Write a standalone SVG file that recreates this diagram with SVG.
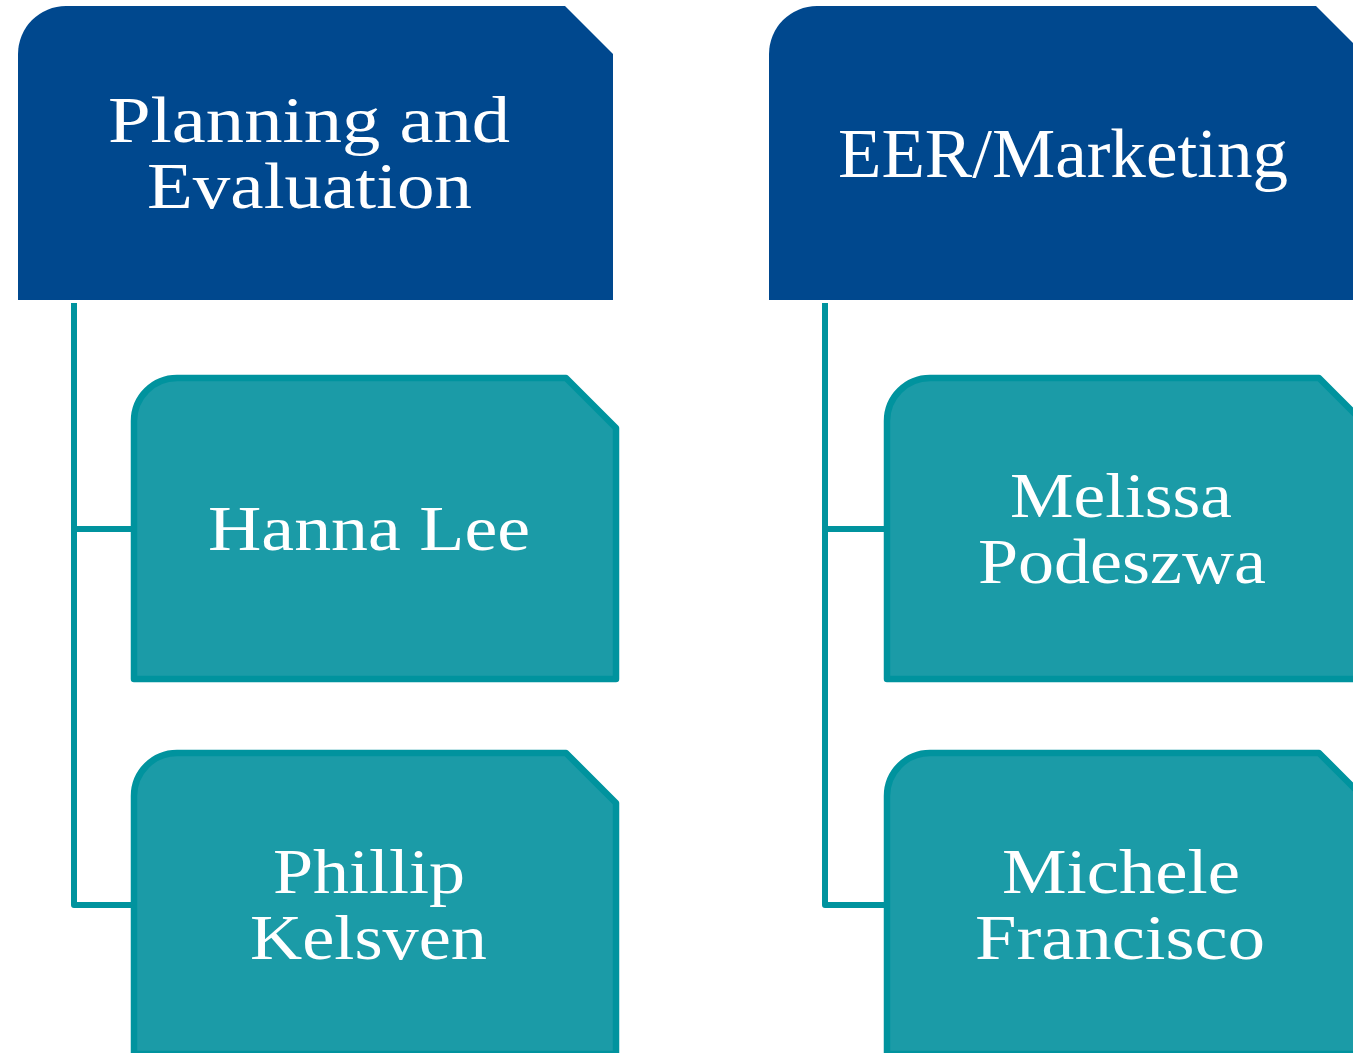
<svg xmlns="http://www.w3.org/2000/svg" width="1353" height="1053" viewBox="0 0 1353 1053">
<style>
.hdr{fill:#00488e}
.box{fill:#1b9ba7;stroke:#00939e;stroke-width:6.5;stroke-linejoin:round}
.con{fill:none;stroke:#00939e;stroke-width:6;stroke-linejoin:round}
text{font-family:"Liberation Serif","Times New Roman",serif;fill:#ffffff;text-anchor:middle}
.h{font-size:66px}
.n{font-size:64px}
</style>
<rect width="1353" height="1053" fill="#ffffff"/>
<g id="connectors">
<path class="con" d="M74,303 V905 H131 M74,529 H131"/>
<path class="con" d="M825,303 V905 H884 M825,529 H884"/>
</g>
<g id="planning">
<path class="hdr" d="M18,54 A48,48 0 0 1 66,6 H565 L613,54 V300 H18 Z"/>
<text class="h" x="309" y="142" textLength="402" lengthAdjust="spacingAndGlyphs">Planning and</text>
<text class="h" x="309.5" y="208" textLength="325" lengthAdjust="spacingAndGlyphs">Evaluation</text>
</g>
<g id="eer">
<path class="hdr" d="M769,54 A48,48 0 0 1 817,6 H1316 L1364,54 V300 H769 Z"/>
<text class="h" x="1063" y="177" style="font-size:70px" textLength="450" lengthAdjust="spacingAndGlyphs">EER/Marketing</text>
</g>
<g id="hanna">
<path class="box" d="M134,421 A43,43 0 0 1 177,378 H566 L616,428 V679 H134 Z"/>
<text class="n" x="369" y="550" textLength="322" lengthAdjust="spacingAndGlyphs">Hanna Lee</text>
</g>
<g id="phillip">
<path class="box" d="M134,796 A43,43 0 0 1 177,753 H566 L616,803 V1054 H134 Z"/>
<text class="n" x="369" y="893" textLength="192" lengthAdjust="spacingAndGlyphs">Phillip</text>
<text class="n" x="368.5" y="959" textLength="237" lengthAdjust="spacingAndGlyphs">Kelsven</text>
</g>
<g id="melissa">
<path class="box" d="M887,421 A43,43 0 0 1 930,378 H1319 L1369,428 V679 H887 Z"/>
<text class="n" x="1121" y="517" textLength="222" lengthAdjust="spacingAndGlyphs">Melissa</text>
<text class="n" x="1122" y="583" textLength="288" lengthAdjust="spacingAndGlyphs">Podeszwa</text>
</g>
<g id="michele">
<path class="box" d="M887,796 A43,43 0 0 1 930,753 H1319 L1369,803 V1054 H887 Z"/>
<text class="n" x="1121" y="893" textLength="238" lengthAdjust="spacingAndGlyphs">Michele</text>
<text class="n" x="1120" y="959" textLength="290" lengthAdjust="spacingAndGlyphs">Francisco</text>
</g>
</svg>
